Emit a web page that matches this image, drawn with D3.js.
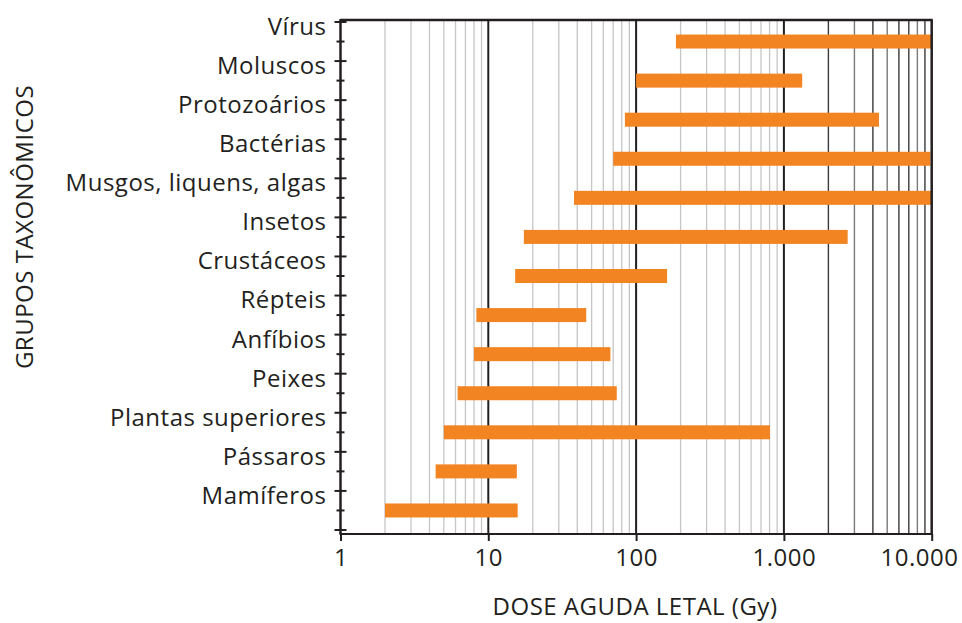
<!DOCTYPE html>
<html>
<head>
<meta charset="utf-8">
<script src="https://cdn.jsdelivr.net/npm/d3@7"></script>
<style>
  html, body { margin: 0; padding: 0; background: #fff; }
  svg { display: block; }
  text { font-family: "Open Sans", "Noto Sans", sans-serif; fill: #231f20; }
</style>
</head>
<body>
<svg id="chart" width="962" height="623"></svg>
<script>
// Taxonomic groups, top to bottom
const groups = [
  "Vírus", "Moluscos", "Protozoários", "Bactérias", "Musgos, liquens, algas",
  "Insetos", "Crustáceos", "Répteis", "Anfíbios", "Peixes",
  "Plantas superiores", "Pássaros", "Mamíferos"
];
// Acute lethal dose range (Gy) for each group
const doseMin = [186, 100, 84, 70, 38, 17.4, 15.2, 8.3, 8.0, 6.2, 5.0, 4.4, 2.0];
const doseMax = [10000, 1330, 4400, 9800, 10000, 2700, 162, 46, 67, 74, 805, 15.6, 15.8];

// Axis ticks
const xTickValues = [1, 10, 100, 1000, 10000];
const xTickLabels = ["1", "10", "100", "1.000", "10.000"];
const xTitle = "DOSE AGUDA LETAL (Gy)";
const yTitle = "GRUPOS TAXONÔMICOS";

const FONT_SIZE = 24;
const LETTER_SP = 0.5;

const svg = d3.select("#chart");
const plot = { left: 340.5, right: 931.7, top: 20, bottom: 534 };

const x = d3.scaleLog().domain([1, 10000]).range([plot.left, plot.right]);
const y = d3.scaleBand().domain(groups).range([22, 530]).padding(0);
const bw = y.bandwidth();

// Minor grid lines (2..9 in every decade)
const minor = [];
[1, 10, 100, 1000].forEach(d => { for (let k = 2; k <= 9; k++) minor.push(d * k); });
const darkMinor = { 2000: "#3a3a3a", 3000: "#7a7a7a", 4000: "#3a3a3a", 5000: "#7a7a7a",
                    6000: "#3a3a3a", 7000: "#3a3a3a", 8000: "#7a7a7a", 9000: "#3a3a3a" };

svg.append("g").selectAll("line").data(minor).join("line")
  .attr("x1", d => x(d)).attr("x2", d => x(d))
  .attr("y1", plot.top).attr("y2", plot.bottom)
  .attr("stroke", d => darkMinor[d] || "#c6c6c8")
  .attr("stroke-width", d => d >= 1000 ? 1.4 : 1.3);

// Major grid lines at 10, 100, 1000
svg.append("g").selectAll("line").data([10, 100, 1000]).join("line")
  .attr("x1", d => x(d)).attr("x2", d => x(d))
  .attr("y1", plot.top).attr("y2", plot.bottom)
  .attr("stroke", "#231f20").attr("stroke-width", 2);

// Dose range bars
const rows = groups.map((g, i) => ({ g, lo: doseMin[i], hi: doseMax[i] }));
svg.append("g").selectAll("rect").data(rows).join("rect")
  .attr("x", d => x(d.lo))
  .attr("width", d => x(d.hi) - x(d.lo))
  .attr("y", d => y(d.g) + bw / 2 - 7)
  .attr("height", 14)
  .attr("fill", "#f38422");

// Frame: top and right borders
svg.append("line").attr("x1", plot.left).attr("x2", plot.right + 1)
  .attr("y1", plot.top).attr("y2", plot.top)
  .attr("stroke", "#231f20").attr("stroke-width", 2.5);
svg.append("line").attr("x1", plot.right).attr("x2", plot.right)
  .attr("y1", plot.top).attr("y2", plot.bottom)
  .attr("stroke", "#231f20").attr("stroke-width", 2.5);

// Bottom axis
const xAxis = d3.axisBottom(x).tickValues(xTickValues)
  .tickFormat((d, i) => xTickLabels[i]).tickSize(7).tickSizeOuter(0).tickPadding(8);
const gx = svg.append("g").attr("transform", `translate(0,${plot.bottom})`).call(xAxis);
gx.select(".domain").attr("stroke", "#231f20").attr("stroke-width", 2.2)
  .attr("d", `M${plot.left - 1},0H${plot.right + 1}`);
gx.selectAll(".tick line").attr("stroke", "#231f20").attr("stroke-width", 2);
gx.selectAll(".tick text")
  .attr("font-size", FONT_SIZE).attr("font-family", "Open Sans, sans-serif")
  .attr("letter-spacing", LETTER_SP)
  .attr("fill", "#231f20").attr("dy", "0.71em");
// keep the last label inside the canvas
gx.selectAll(".tick text").filter(d => d === 10000)
  .attr("text-anchor", "end").attr("x", 958 - plot.right);

// Left axis
svg.append("line").attr("x1", plot.left).attr("x2", plot.left)
  .attr("y1", plot.top - 1).attr("y2", plot.bottom)
  .attr("stroke", "#231f20").attr("stroke-width", 2.5);

const majorY = groups.map(g => y(g)).concat([y.range()[1]]);
svg.append("g").selectAll("line").data(majorY).join("line")
  .attr("x1", plot.left - 6).attr("x2", plot.left + 6)
  .attr("y1", d => d).attr("y2", d => d)
  .attr("stroke", "#231f20").attr("stroke-width", 2);
svg.append("g").selectAll("line").data(groups).join("line")
  .attr("x1", plot.left - 4).attr("x2", plot.left + 4)
  .attr("y1", d => y(d) + bw / 2).attr("y2", d => y(d) + bw / 2)
  .attr("stroke", "#231f20").attr("stroke-width", 2);

// Group labels, right-aligned next to the upper tick of each band
svg.append("g").selectAll("text").data(groups).join("text")
  .attr("x", plot.left - 14)
  .attr("y", d => y(d) + 12.9)
  .attr("text-anchor", "end")
  .attr("font-size", FONT_SIZE)
  .attr("letter-spacing", LETTER_SP)
  .text(d => d);

// Axis titles
svg.append("text")
  .attr("x", 635).attr("y", 615)
  .attr("text-anchor", "middle").attr("font-size", FONT_SIZE)
  .attr("letter-spacing", LETTER_SP)
  .text(xTitle);

svg.append("text")
  .attr("transform", "translate(33,227) rotate(-90)")
  .attr("text-anchor", "middle").attr("font-size", FONT_SIZE)
  .attr("letter-spacing", LETTER_SP)
  .text(yTitle);
</script>
</body>
</html>
